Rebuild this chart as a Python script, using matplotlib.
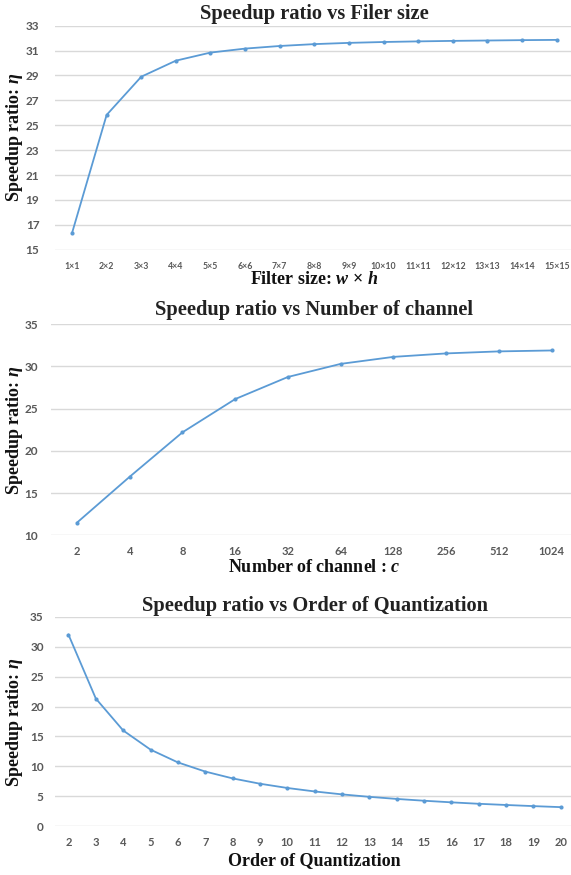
import matplotlib
matplotlib.use("Agg")
import matplotlib.pyplot as plt

plt.rcParams['mathtext.fontset'] = 'custom'
plt.rcParams['mathtext.rm'] = 'Liberation Serif:bold'
plt.rcParams['mathtext.it'] = 'Liberation Serif:italic:bold'
plt.rcParams['mathtext.bf'] = 'Liberation Serif:bold'

# ---- data ----
filter_labels = ["1×1", "2×2", "3×3", "4×4", "5×5", "6×6", "7×7", "8×8", "9×9",
                 "10×10", "11×11", "12×12", "13×13", "14×14", "15×15"]
filter_speedup = [16.33, 25.83, 28.9, 30.19, 30.84, 31.16, 31.37, 31.52, 31.62,
                  31.69, 31.74, 31.78, 31.81, 31.84, 31.86]

channel_labels = ["2", "4", "8", "16", "32", "64", "128", "256", "512", "1024"]
channel_speedup = [11.5, 16.94, 22.2, 26.14, 28.76, 30.31, 31.14, 31.55, 31.79, 31.9]

order_labels = [str(v) for v in [2, 3, 4, 5, 6, 7, 8, 9, 10, 11, 12, 13, 14, 15,
                                 16, 17, 18, 19, 20]]
order_speedup = [32.0, 21.33, 16.0, 12.8, 10.67, 9.14, 8.0, 7.11, 6.4, 5.82,
                 5.33, 4.92, 4.57, 4.27, 4.0, 3.76, 3.56, 3.37, 3.2]

LINE = '#5B9BD5'
GRID = '#D9D9D9'
TICKC = '#595959'
W, H = 571, 875

fig = plt.figure(figsize=(W / 100, H / 100), dpi=100)


def make_axes(left_px, right_px, top_px, bottom_px):
    return fig.add_axes([left_px / W, 1 - bottom_px / H,
                         (right_px - left_px) / W, (bottom_px - top_px) / H])


def style(ax, labels, values, ylim, ystep, title, xlabel, title_y, xlabel_y,
          xtick_size, ypad, xpad):
    x = list(range(len(labels)))
    ax.plot(x, values, color=LINE, lw=1.3, marker='o', ms=3.0,
            markeredgewidth=0, clip_on=False)
    ax.set_xlim(-0.5, len(labels) - 0.5)
    ax.set_ylim(*ylim)
    yt = list(range(ylim[0], ylim[1] + 1, ystep))
    ax.set_yticks(yt)
    ax.set_xticks(x)
    ax.set_xticklabels(labels)
    for s in ax.spines.values():
        s.set_visible(False)
    ax.grid(axis='y', color=GRID, lw=1.0)
    ax.set_axisbelow(True)
    ax.tick_params(length=0)
    ax.tick_params(axis='y', pad=ypad, labelsize=8.5, labelcolor=TICKC)
    ax.tick_params(axis='x', pad=xpad, labelsize=xtick_size, labelcolor=TICKC)
    for lab in ax.get_yticklabels() + ax.get_xticklabels():
        lab.set_fontweight('bold')
        lab.set_fontfamily('Lato')
    cx = (ax.get_position().x0 + ax.get_position().x1) / 2
    fig.text(cx, 1 - title_y / H, title, ha='center', va='center',
             fontsize=14.7, fontweight='bold', family='Liberation Serif',
             color='#222222')
    fig.text(cx, 1 - xlabel_y / H, xlabel, ha='center', va='center',
             fontsize=13, fontweight='bold', family='Liberation Serif',
             color='#111111')


ax1 = make_axes(54.7, 574, 25.7, 249.7)
style(ax1, filter_labels, filter_speedup, (15, 33), 2,
      "Speedup ratio vs Filer size", r"Filter size: $w$ × $h$",
      14, 280, 6.3, 11, 9)
ax2 = make_axes(50.6, 578, 324.3, 535.3)
style(ax2, channel_labels, channel_speedup, (10, 35), 5,
      "Speedup ratio vs Number of channel", r"Number of channel : $c$",
      310, 567, 8.0, 9, 8)
ax3 = make_axes(54.8, 574.5, 616.7, 826.3)
style(ax3, order_labels, order_speedup, (0, 35), 5,
      "Speedup ratio vs Order of Quantization", "Order of Quantization",
      606, 861, 8.0, 8, 8)

for ax, yc in [(ax1, 137), (ax2, 430), (ax3, 722)]:
    fig.text(14.5 / W, 1 - yc / H, r"Speedup ratio: $\eta$", rotation=90,
             ha='center', va='center', fontsize=13, fontweight='bold',
             family='Liberation Serif', color='#111111')

fig.savefig('out.png', dpi=100)
